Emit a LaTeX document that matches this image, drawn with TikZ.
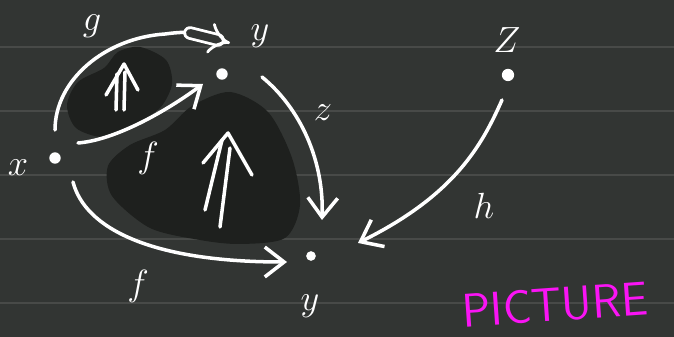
\documentclass[tikz,border=0pt]{standalone}
\usepackage{tikz}
\usetikzlibrary{arrows.meta,calc}
\definecolor{boardgray}{RGB}{50,53,51}
\definecolor{boardline}{RGB}{72,74,72}
\definecolor{blobdark}{RGB}{30,32,30}
\definecolor{chalkpink}{RGB}{250,20,245}

\begin{document}
\begin{tikzpicture}[x=0.02cm,y=-0.02cm,line cap=round,line join=round,
  chalk/.style={white,line width=2pt},
  barb/.style={-{Straight Barb[length=11pt,width=17pt]}},
  pt/.style={circle,fill=white,inner sep=0pt,minimum size=6.5pt},
  lbl/.style={white,font=\fontsize{22}{26}\selectfont}]
 \fill[boardgray] (0,0) rectangle (674,337);
 \useasboundingbox (0,0) rectangle (674,337);
 \foreach \r in {47,111,175,239,303}{\draw[boardline,line width=0.6pt] (0,\r)--(674,\r);}
 % shaded regions
 \fill[blobdark] plot[smooth cycle] coordinates
  {(140,47) (166,60) (172,84) (160,108) (134,124) (104,137) (76,128) (67,105) (78,82) (104,68) (118,52)};
 \fill[blobdark] plot[smooth cycle] coordinates
  {(230,92) (268,112) (292,158) (300,205) (285,238) (240,244) (200,240) (150,228) (112,196) (108,166) (130,145) (165,130) (192,106)};
 % objects
 \node[pt] (x) at (55,158) {};
 \node[pt] (y1) at (222,74) {};
 \node[pt,minimum size=5.5pt] (y2) at (311,256) {};
 \node[pt,minimum size=7pt] (z) at (508,75) {};
 \node[lbl] (lx) at (18,168) {$x$};
 \node[lbl] (ly1) at (260,36) {$y$};
 \node[lbl] (ly2) at (310,306) {$y$};
 \node[lbl] (lz) at (507,40) {$Z$};
 % 1-cells
 \draw[chalk] ($(x)+(0,-28)$) .. controls (55,80) and (105,38) .. (165,34)
  .. controls (180,32) and (188,32) .. (193,33);
 \draw[white,line width=1.6pt,double=boardgray,double distance=4.5pt,-{Implies[length=11pt,width=24pt]}]
  (190,33) -- ($(y1)+(8,-31)$);
 \draw[chalk,barb] ($(x)+(23,-15)$) .. controls (115,140) and (165,112) .. ($(y1)+(-19,10)$);
 \draw[chalk,barb] ($(x)+(18,24)$) .. controls (85,228) and (150,262) .. ($(y2)+(-24,6)$);
 \draw[chalk,barb] ($(y1)+(40,3)$) .. controls (300,108) and (324,160) .. ($(y2)+(11,-36)$);
 \draw[chalk,barb] ($(z)+(-6,25)$) .. controls (482,145) and (455,195) .. ($(y2)+(47,-13)$);
 \node[lbl] (lg) at (92,26) {$g$};
 \node[lbl] (lf1) at (148,158) {$f$};
 \node[lbl] (lf2) at (138,286) {$f$};
 \node[lbl] (lzz) at (323,113) {$z$};
 \node[lbl] (lh) at (484,206) {$h$};
 % 2-cells
 \coordinate (t1) at (124,64);
 \draw[chalk] (t1) ++(-7,10) -- (116,110) (t1) ++(1,8) -- (124,110);
 \draw[chalk] (106,95) -- (t1) -- (138,90);
 \coordinate (t2) at (228,133);
 \draw[chalk] (t2) ++(-6,7) -- (205,210) (t2) ++(2,15) -- (220,227);
 \draw[chalk] (203,163) -- (t2) -- (252,175);
 \node[text=chalkpink,inner sep=0pt,font=\fontsize{27}{31}\sffamily,rotate=4] (title) at (555,305) {PICTURE};
\end{tikzpicture}
\end{document}
